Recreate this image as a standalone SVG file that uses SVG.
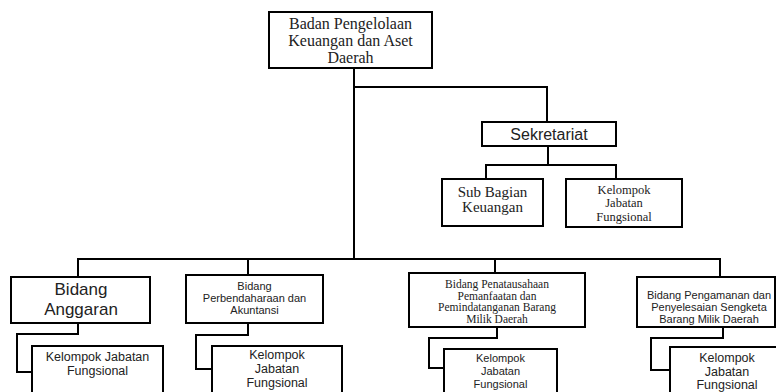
<svg xmlns="http://www.w3.org/2000/svg" width="776" height="392" viewBox="0 0 776 392">
<style>
.box{fill:#fff;stroke:#000;stroke-width:2}
.ln{fill:none;stroke:#000;stroke-width:2}
.serif{font-family:"Liberation Serif","Times New Roman",serif;fill:#222;text-anchor:middle}
.sans{font-family:"Liberation Sans",Arial,sans-serif;fill:#222;text-anchor:middle}
</style>
<rect width="776" height="392" fill="#fff"/>
<g id="connectors">
<polyline class="ln" points="354,68 354,259"/>
<polyline class="ln" points="354,87 547,87 547,122"/>
<polyline class="ln" points="78,277 78,259 720,259 720,277"/>
<polyline class="ln" points="248,259 248,275"/>
<polyline class="ln" points="495,259 495,273"/>
<polyline class="ln" points="548,146 548,165"/>
<polyline class="ln" points="486,179 486,165 616,165 616,179"/>
<polyline class="ln" points="78,323 78,334 17,334 17,372 32,372"/>
<polyline class="ln" points="248,323 248,335 196,335 196,369 212,369"/>
<polyline class="ln" points="497,327 497,338 429,338 429,368 444,368"/>
<polyline class="ln" points="723,327 723,338 651,338 651,370 670,370"/>
</g>
<g id="badan">
<rect class="box" x="269" y="12" width="163" height="56"/>
<text class="serif" font-size="16" x="350.5" y="29">Badan Pengelolaan</text>
<text class="serif" font-size="16" x="350.5" y="46">Keuangan dan Aset</text>
<text class="serif" font-size="16" x="350.5" y="63">Daerah</text>
</g>
<g id="sekretariat">
<rect class="box" x="482" y="122" width="134" height="24"/>
<text class="sans" font-size="16" x="549" y="140">Sekretariat</text>
</g>
<g id="subbagian">
<rect class="box" x="442" y="179" width="101" height="47"/>
<text class="serif" font-size="15" x="492.5" y="197">Sub Bagian</text>
<text class="serif" font-size="15" x="492.5" y="212">Keuangan</text>
</g>
<g id="kjf-sek">
<rect class="box" x="566" y="179" width="116" height="48"/>
<text class="serif" font-size="12.5" x="624" y="193.5">Kelompok</text>
<text class="serif" font-size="12.5" x="624" y="207">Jabatan</text>
<text class="serif" font-size="12.5" x="624" y="220.5">Fungsional</text>
</g>
<g id="anggaran">
<rect class="box" x="11" y="277" width="139" height="46"/>
<text class="sans" font-size="17" x="81" y="295">Bidang</text>
<text class="sans" font-size="17" x="81" y="315">Anggaran</text>
</g>
<g id="kjf-1">
<rect class="box" x="32" y="346" width="131" height="60"/>
<text class="sans" font-size="12.5" x="97.5" y="361">Kelompok Jabatan</text>
<text class="sans" font-size="12.5" x="97.5" y="375">Fungsional</text>
</g>
<g id="perbendaharaan">
<rect class="box" x="186" y="275" width="137" height="48"/>
<text class="sans" font-size="11" x="254.5" y="290">Bidang</text>
<text class="sans" font-size="11" x="254.5" y="302">Perbendaharaan dan</text>
<text class="sans" font-size="11" x="254.5" y="314">Akuntansi</text>
</g>
<g id="kjf-2">
<rect class="box" x="212" y="346" width="130" height="60"/>
<text class="sans" font-size="12.5" x="277" y="359">Kelompok</text>
<text class="sans" font-size="12.5" x="277" y="373">Jabatan</text>
<text class="sans" font-size="12.5" x="277" y="387">Fungsional</text>
</g>
<g id="penatausahaan">
<rect class="box" x="409" y="273" width="176" height="54"/>
<text class="serif" font-size="11.5" x="497" y="288">Bidang Penatausahaan</text>
<text class="serif" font-size="11.5" x="497" y="299.5">Pemanfaatan dan</text>
<text class="serif" font-size="11.5" x="497" y="311">Pemindatanganan Barang</text>
<text class="serif" font-size="11.5" x="497" y="322.5">Milik Daerah</text>
</g>
<g id="kjf-3">
<rect class="box" x="444" y="349" width="113" height="60"/>
<text class="sans" font-size="11" x="500.5" y="362">Kelompok</text>
<text class="sans" font-size="11" x="500.5" y="375">Jabatan</text>
<text class="sans" font-size="11" x="500.5" y="388">Fungsional</text>
</g>
<g id="pengamanan">
<rect class="box" x="637" y="277" width="138" height="50"/>
<text class="sans" font-size="11" x="709" y="299">Bidang Pengamanan dan</text>
<text class="sans" font-size="11" x="709" y="311">Penyelesaian Sengketa</text>
<text class="sans" font-size="11" x="709" y="323">Barang Milik Daerah</text>
</g>
<g id="kjf-4">
<rect class="box" x="670" y="347" width="120" height="60"/>
<text class="sans" font-size="12.5" x="727" y="362">Kelompok</text>
<text class="sans" font-size="12.5" x="727" y="375.5">Jabatan</text>
<text class="sans" font-size="12.5" x="727" y="389">Fungsional</text>
</g>
</svg>
